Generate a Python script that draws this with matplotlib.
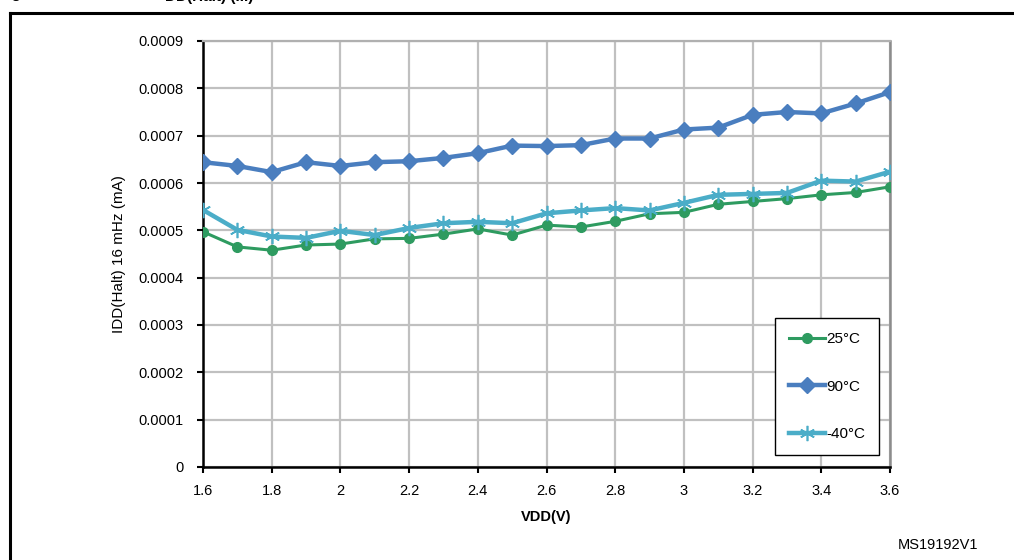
import matplotlib
matplotlib.use("Agg")
import matplotlib.pyplot as plt
from matplotlib.lines import Line2D
import numpy as np

plt.rcParams['font.family'] = ['Liberation Sans', 'DejaVu Sans']

# ======== Data ========
vdd = [1.6, 1.7, 1.8, 1.9, 2.0, 2.1, 2.2, 2.3, 2.4, 2.5, 2.6,
       2.7, 2.8, 2.9, 3.0, 3.1, 3.2, 3.3, 3.4, 3.5, 3.6]
idd_25 = [4.97, 4.65, 4.58, 4.69, 4.71, 4.82, 4.83, 4.92, 5.03, 4.90, 5.11,
          5.07, 5.19, 5.35, 5.38, 5.55, 5.61, 5.67, 5.75, 5.80, 5.92]
idd_90 = [6.44, 6.36, 6.23, 6.44, 6.36, 6.44, 6.46, 6.53, 6.63, 6.79, 6.78,
          6.80, 6.94, 6.94, 7.13, 7.17, 7.44, 7.50, 7.47, 7.68, 7.92]
idd_m40 = [5.43, 5.01, 4.87, 4.84, 4.99, 4.90, 5.05, 5.15, 5.18, 5.15, 5.36,
           5.42, 5.47, 5.42, 5.58, 5.75, 5.77, 5.79, 6.05, 6.03, 6.24]
labels = ['25°C', '90°C', '-40°C']
yticks = [0, 0.0001, 0.0002, 0.0003, 0.0004, 0.0005, 0.0006, 0.0007, 0.0008, 0.0009]
xticks = [1.6, 1.8, 2.0, 2.2, 2.4, 2.6, 2.8, 3.0, 3.2, 3.4, 3.6]
xtick_labels = ['1.6', '1.8', '2', '2.2', '2.4', '2.6', '2.8', '3', '3.2', '3.4', '3.6']

GREEN = '#2E9B60'
BLUE = '#4A7EBF'
CYAN = '#4BADC8'

# ======== Figure ========
fig = plt.figure(figsize=(10.14, 5.6), dpi=100)
W, H = 1014, 560
ax = fig.add_axes([203 / W, (H - 467) / H, 687 / W, 426 / H])

scale = 1e-4
ax.plot(vdd, np.array(idd_25) * scale, color=GREEN, lw=2.2, marker='o', ms=7,
        label=labels[0], zorder=3)
ax.plot(vdd, np.array(idd_90) * scale, color=BLUE, lw=3.2, marker='D', ms=8,
        label=labels[1], zorder=4)
ax.plot(vdd, np.array(idd_m40) * scale, color=CYAN, lw=3.2, marker=(6, 2, 0), ms=11,
        mew=1.2, label=labels[2], zorder=3)

ax.set_xlim(1.6, 3.6)
ax.set_ylim(0, 0.0009)
ax.set_xticks(xticks)
ax.set_xticklabels(xtick_labels)
ax.set_yticks(yticks)
ax.set_yticklabels(['0'] + ['%.4f' % v for v in yticks[1:]])
ax.tick_params(axis='both', labelsize=10.5, length=4, width=1.5, color='black')
ax.tick_params(axis='x', pad=8)
ax.tick_params(axis='y', pad=10)

ax.grid(True, color='#C0C0C0', lw=1.6)
ax.set_axisbelow(True)
for s in ['left', 'bottom']:
    ax.spines[s].set_color('black')
    ax.spines[s].set_linewidth(1.8)
ax.spines['right'].set_color('#8C8C8C')
ax.spines['right'].set_linewidth(1.8)
ax.spines['top'].set_color('#B0B0B0')
ax.spines['top'].set_linewidth(1.6)

ax.set_xlabel('VDD(V)', fontsize=10.5, fontweight='bold', labelpad=9)
ax.set_ylabel('IDD(Halt) 16 mHz (mA)', fontsize=11, labelpad=9)

leg = ax.legend(loc='lower right', bbox_to_anchor=(0.984, 0.028), borderaxespad=0,
                fontsize=11, labelspacing=2.2, handlelength=2.4, handletextpad=0.05,
                borderpad=0.9, fancybox=False, framealpha=1)
leg.get_frame().set_edgecolor('black')
leg.get_frame().set_linewidth(1.0)

# outer frame and cut title
fig.add_artist(Line2D([10 / W, 10 / W], [0, 1 - 13 / H], color='black', lw=2.2,
                      transform=fig.transFigure))
fig.add_artist(Line2D([10 / W, 1], [1 - 13 / H, 1 - 13 / H], color='black', lw=2.2,
                      transform=fig.transFigure))
fig.text(-2 / W, 1 + 6 / H, 'Figure', fontsize=11, fontweight='bold', va='center')
fig.text(165 / W, 1 + 3 / H, 'DD(Halt) (...)', fontsize=11, fontweight='bold', va='center')

fig.text(938 / W, 1 - 545 / H, 'MS19192V1', fontsize=10.5, ha='center', va='center')

fig.savefig('out.png', dpi=100, facecolor='white')
